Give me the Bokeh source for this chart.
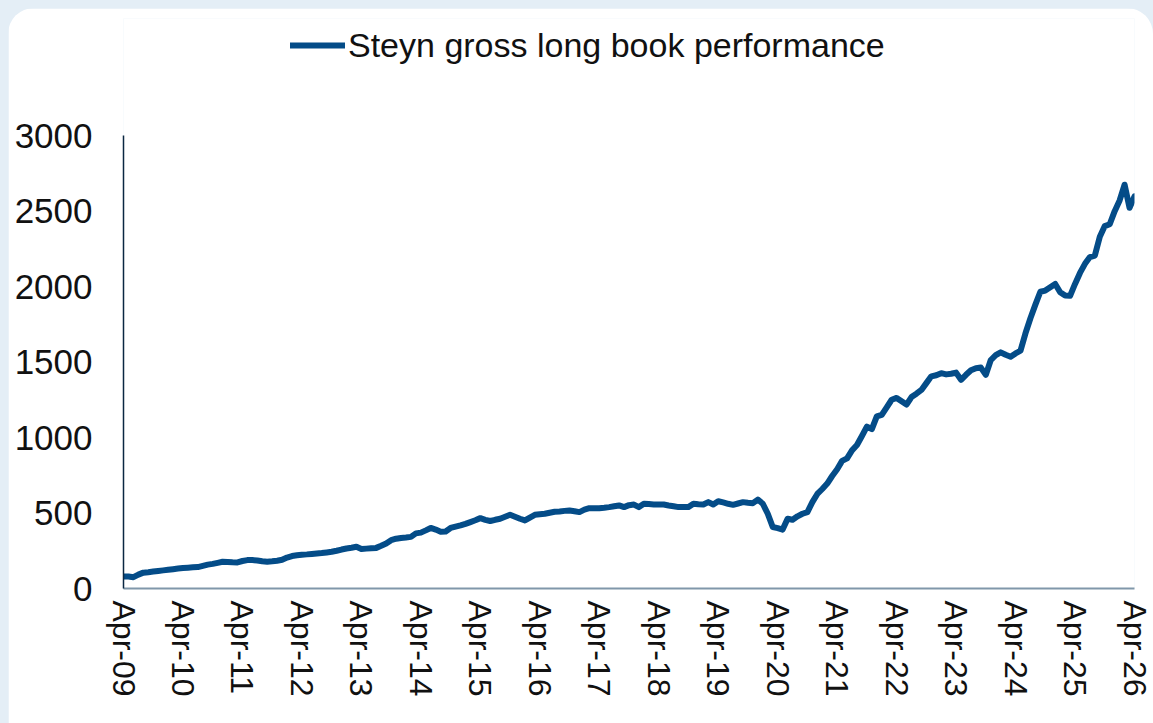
from bokeh.plotting import figure
from bokeh.layouts import column
from bokeh.models import Range1d, FixedTicker, Legend, LegendItem, InlineStyleSheet
from bokeh.embed import file_html
from bokeh.resources import INLINE

# ---- data (monthly, Apr-09 .. Apr-26) ----
series_name = "Steyn gross long book performance"
performance = [
    79, 80, 75, 92, 105, 108, 112, 116, 120, 124, 128, 132,
    136, 138, 140, 142, 150, 158, 163, 170, 177, 176, 174, 173,
    182, 188, 188, 185, 180, 177, 180, 184, 190, 205, 215, 220,
    224, 226, 229, 232, 235, 239, 243, 250, 258, 265, 270, 276,
    261, 264, 267, 269, 283, 298, 320, 330, 335, 338, 342, 365,
    370, 385, 401, 390, 376, 378, 401, 410, 418, 428, 440, 452,
    466, 455, 447, 455, 462, 475, 488, 475, 462, 451, 470, 488,
    492, 495, 502, 508, 510, 514, 517, 512, 506, 522, 532, 532,
    532, 535, 539, 545, 550, 539, 552, 556, 539, 561, 559, 557,
    556, 556, 550, 545, 539, 539, 539, 561, 558, 556, 572, 556,
    578, 570, 561, 554, 563, 572, 568, 565, 589, 561, 495, 407,
    400, 390, 462, 455, 478, 495, 506, 572, 626, 659, 695, 745,
    790, 845, 862, 915, 950, 1010, 1072, 1055, 1140, 1150, 1200, 1250,
    1262, 1240, 1218, 1268, 1290, 1315, 1360, 1405, 1412, 1426, 1418, 1422,
    1430, 1382, 1415, 1445, 1459, 1463, 1415, 1513, 1545, 1564, 1548, 1535,
    1557, 1575, 1690, 1790, 1880, 1965, 1973, 1995, 2017, 1962, 1940, 1938,
    2017, 2090, 2150, 2195, 2205, 2330, 2400, 2412, 2499, 2570, 2674, 2521,
    2597,
]
months = list(range(len(performance)))  # month index from Apr-09
tick_labels = ["Apr-09", "Apr-10", "Apr-11", "Apr-12", "Apr-13", "Apr-14",
               "Apr-15", "Apr-16", "Apr-17", "Apr-18", "Apr-19", "Apr-20",
               "Apr-21", "Apr-22", "Apr-23", "Apr-24", "Apr-25", "Apr-26"]
y_ticks = [0, 500, 1000, 1500, 2000, 2500, 3000]

LINE = "#044c88"
TEXT = "#111111"
FONT = "Liberation Sans"

# frame runs to near the top so the legend (drawn inside the frame) is visible;
# the value axis itself is bounded to 0..3000
FRAME_H = 570          # pixels of frame height
AXIS_H = 453           # pixels spanned by 0..3000
y_top = y_ticks[-1] * FRAME_H / AXIS_H

p = figure(width=1145, height=715, output_backend="svg", toolbar_location=None,
           x_range=Range1d(0, 12 * (len(tick_labels) - 1)), y_range=Range1d(0, y_top),
           min_border_left=115, min_border_right=19, min_border_top=715 - 135 - FRAME_H,
           min_border_bottom=135)
p.background_fill_color = "white"
p.border_fill_color = "white"
p.outline_line_color = None
p.xgrid.visible = False
p.ygrid.visible = False
p.stylesheets = [InlineStyleSheet(css=":host { border-radius: 26px 26px 0 0; overflow: hidden; }")]

r = p.line(months, performance, line_color=LINE, line_width=6, line_join="round",
           line_cap="round")

# y axis
p.yaxis.ticker = FixedTicker(ticks=y_ticks)
p.yaxis.bounds = (y_ticks[0], y_ticks[-1])
p.yaxis.major_tick_line_color = None
p.yaxis.minor_tick_line_color = None
p.yaxis.major_tick_out = 0
p.yaxis.major_label_standoff = 31
p.yaxis.axis_line_color = "#0a2742"
p.yaxis.axis_line_width = 1.5
p.yaxis.major_label_text_font = FONT
p.yaxis.major_label_text_font_size = "35px"
p.yaxis.major_label_text_color = TEXT

# x axis
xt = [12 * i for i in range(len(tick_labels))]
p.xaxis.ticker = FixedTicker(ticks=xt)
p.xaxis.major_label_overrides = {t: lab for t, lab in zip(xt, tick_labels)}
p.xaxis.major_tick_line_color = None
p.xaxis.minor_tick_line_color = None
p.xaxis.major_tick_out = 0
p.xaxis.major_label_standoff = 12
p.xaxis.major_label_orientation = "vertical"
p.xaxis.axis_line_color = "#8097aa"
p.xaxis.axis_line_width = 2
p.xaxis.major_label_text_font = FONT
p.xaxis.major_label_text_font_size = "32px"
p.xaxis.major_label_text_color = TEXT

legend = Legend(items=[LegendItem(label=series_name, renderers=[r])],
                location=(167, 523), orientation="horizontal",
                padding=0, margin=0, spacing=0, label_standoff=3,
                glyph_width=55, glyph_height=40, label_height=40,
                border_line_alpha=0, background_fill_alpha=0,
                label_text_font=FONT, label_text_font_size="34px",
                label_text_color=TEXT)
p.add_layout(legend, "center")

page = column(p, styles={"background-color": "#e4eef6", "padding": "8px 0 0 8px"})

open("out.html", "w").write(file_html(page, INLINE))
